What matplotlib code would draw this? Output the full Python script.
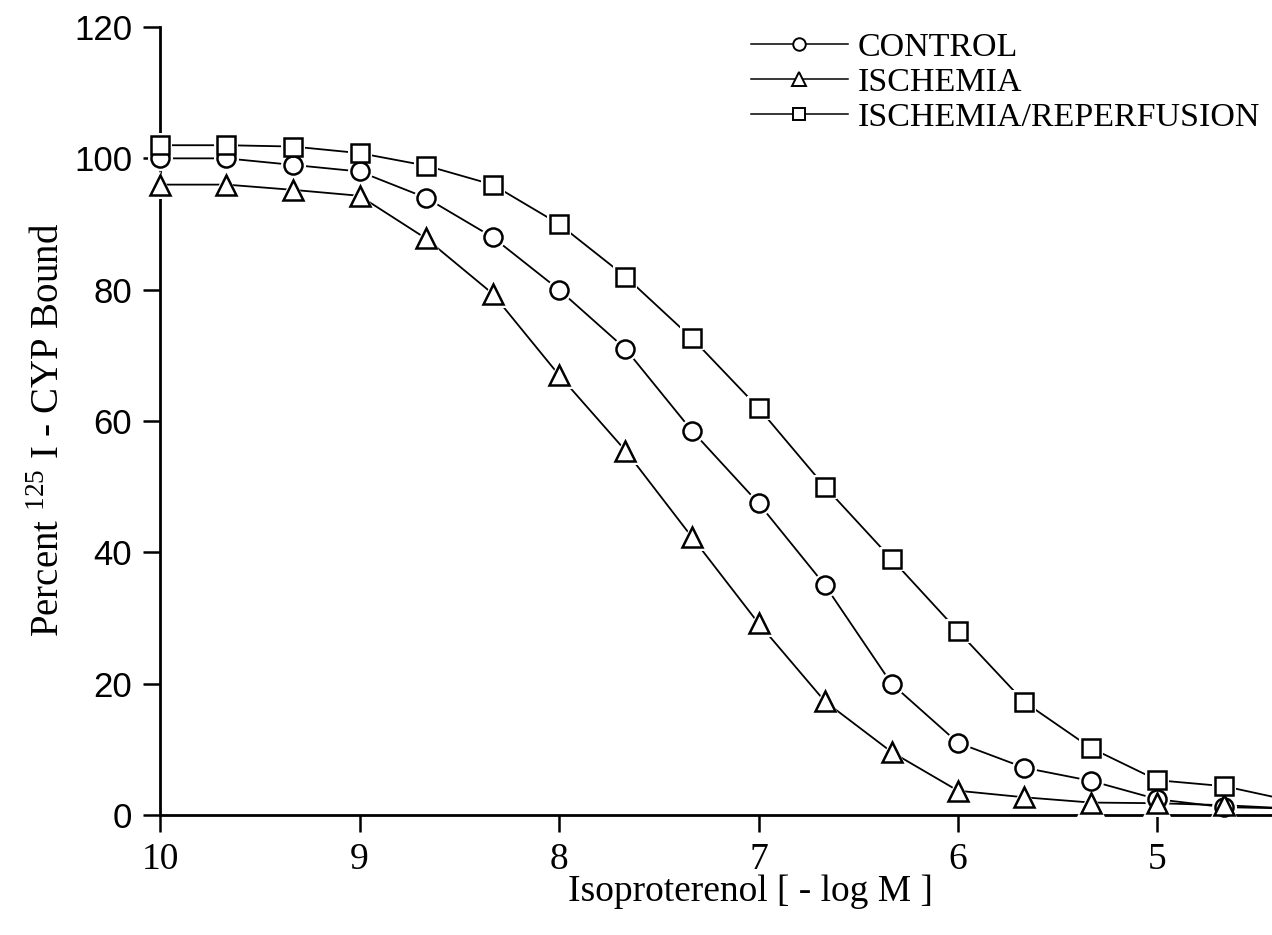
import matplotlib.pyplot as plt
from matplotlib.lines import Line2D

# Isoproterenol concentration, -log M (third-of-a-decade steps)
log_conc = [10.0, 9.667, 9.333, 9.0, 8.667, 8.333, 8.0, 7.667, 7.333,
            7.0, 6.667, 6.333, 6.0, 5.667, 5.333, 5.0, 4.667, 4.333]

# Percent 125I-CYP bound for each group
control = [100, 100, 99, 98, 94, 88, 80, 71, 58.5,
           47.5, 35, 20, 11, 7.2, 5.2, 2.4, 1.2, 1.0]
ischemia = [96, 96, 95.2, 94.3, 87.8, 79.4, 67, 55.5, 42.3,
            29.2, 17.3, 9.6, 3.7, 2.7, 1.9, 1.8, 1.5, 1.0]
reperfusion = [102, 102, 101.8, 100.8, 98.9, 96, 90, 82, 72.6,
               62, 50, 39, 28, 17.2, 10.2, 5.3, 4.4, 2.2]

labels = ["CONTROL", "ISCHEMIA", "ISCHEMIA/REPERFUSION"]
x_ticks = [10, 9, 8, 7, 6, 5]
y_ticks = [0, 20, 40, 60, 80, 100, 120]

serif = "Liberation Serif"
sans = "Liberation Sans"
plt.rcParams["mathtext.fontset"] = "custom"
plt.rcParams["mathtext.rm"] = serif

fig = plt.figure(figsize=(12.72, 9.35), dpi=100)
ax = fig.add_axes([0.1258, 0.1283, 0.8742, 0.8428])

styles = [("o", 13), ("^", 15), ("s", 12.5)]
data = [control, ischemia, reperfusion]

# connecting lines first, then a white halo, then the open markers
for vals in data:
    ax.plot(log_conc, vals, color="black", lw=1.3, zorder=2, clip_on=False)
for vals, (mk, ms) in zip(data, styles):
    ax.plot(log_conc, vals, ls="none", marker=mk, ms=ms + 5, mfc="white",
            mec="white", mew=0, zorder=3, clip_on=False)
    ax.plot(log_conc, vals, ls="none", marker=mk, ms=ms, mfc="white",
            mec="black", mew=1.8, zorder=4, clip_on=False)

ax.set_xlim(10, 4.426)
ax.set_ylim(0, 120)
ax.set_xticks(x_ticks)
ax.set_yticks(y_ticks)
ax.set_xticklabels([str(t) for t in x_ticks], family=serif, fontsize=27)
ax.set_yticklabels([str(t) for t in y_ticks], family=sans, fontsize=25)
ax.tick_params(direction="out", length=12, width=1.8, pad=8)

for side in ["top", "right"]:
    ax.spines[side].set_visible(False)
for side in ["left", "bottom"]:
    ax.spines[side].set_linewidth(2)

ax.set_xlabel("Isoproterenol [ - log M ]", family=serif, fontsize=27)
ax.xaxis.set_label_coords(0.531, -0.075)
ax.set_ylabel(r"Percent $^{\mathrm{125}}$ I - CYP Bound", family=serif,
              fontsize=28)
ax.yaxis.set_label_coords(-0.083, 0.489)

handles = [Line2D([], [], color="black", lw=1.1, marker=mk, ms=m,
                  mfc="white", mec="black", mew=1.4)
           for (mk, _), m in zip(styles, [9, 10.5, 9])]
ax.legend(handles, labels, loc="upper left", bbox_to_anchor=(0.5767, 0.9835),
          bbox_transform=fig.transFigure, frameon=False, borderpad=0,
          handlelength=2.85, handletextpad=0.3, labelspacing=0.12,
          prop={"family": serif, "size": 24.5})

fig.savefig("out.png", dpi=100)
